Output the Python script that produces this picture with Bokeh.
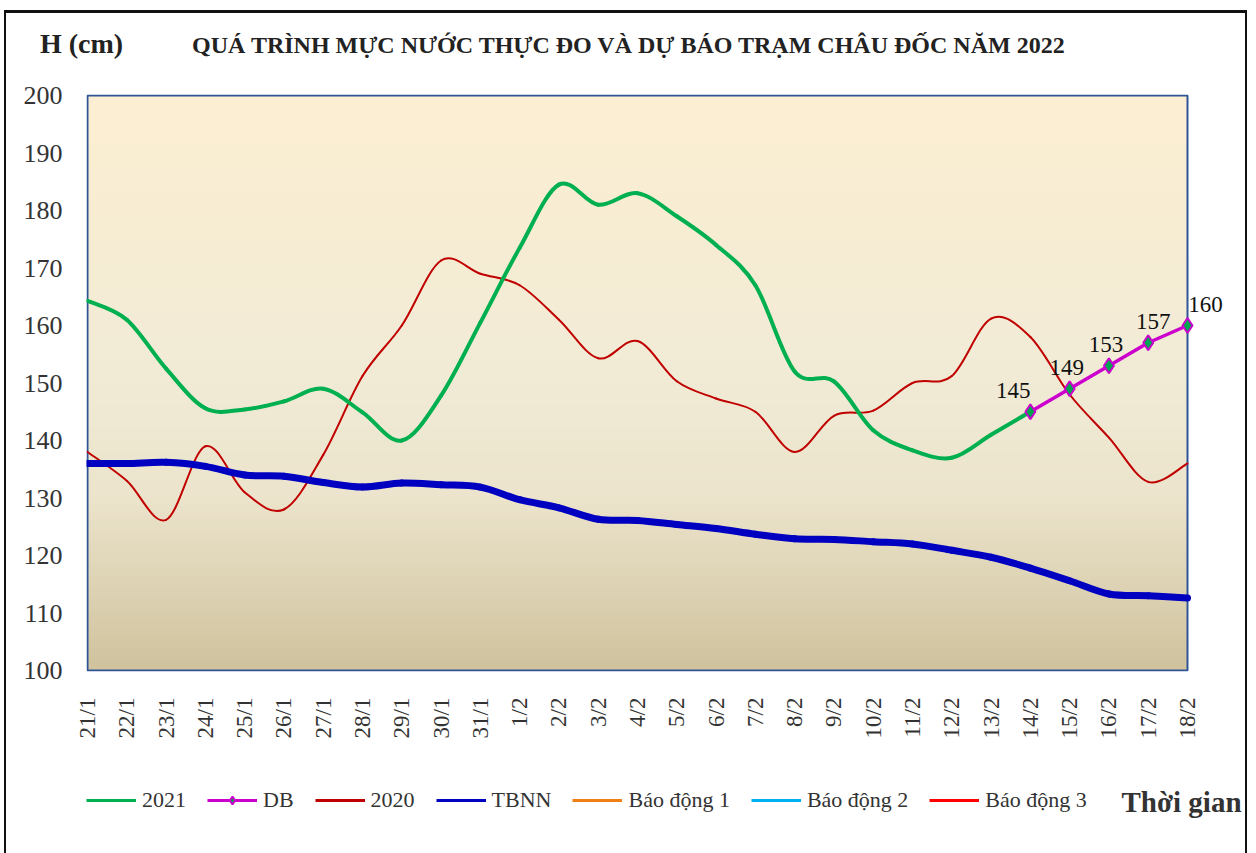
import numpy as np
from bokeh.plotting import figure
from bokeh.layouts import column
from bokeh.models import Range1d, FixedTicker, Legend, LegendItem, Label, Div
from bokeh.core.properties import value
from bokeh.embed import file_html
from bokeh.resources import INLINE

# ---------------- data ----------------
dates = ["21/1", "22/1", "23/1", "24/1", "25/1", "26/1", "27/1", "28/1", "29/1", "30/1",
         "31/1", "1/2", "2/2", "3/2", "4/2", "5/2", "6/2", "7/2", "8/2", "9/2",
         "10/2", "11/2", "12/2", "13/2", "14/2", "15/2", "16/2", "17/2", "18/2"]

h2021 = [164.3, 161.0, 152.5, 145.6, 145.4, 146.8, 149.0, 144.9, 140.0, 147.8,
         160.5, 173.5, 184.5, 181.0, 183.0, 179.0, 174.0, 167.0, 152.0, 150.3,
         141.8, 138.3, 137.0, 141.0, 145.0]

db_dates = ["14/2", "15/2", "16/2", "17/2", "18/2"]
db = [145, 149, 153, 157, 160]

h2020 = [138.0, 133.0, 126.2, 139.0, 131.0, 128.0, 137.5, 151.2, 160.0, 171.3,
         169.0, 167.0, 161.0, 154.3, 157.3, 150.3, 147.3, 145.0, 138.0, 144.3,
         145.2, 150.0, 151.2, 161.2, 158.0, 148.0, 140.5, 132.8, 136.0]

tbnn = [136.0, 136.0, 136.2, 135.5, 134.0, 133.8, 132.7, 131.9, 132.6, 132.3,
        131.9, 129.7, 128.3, 126.3, 126.1, 125.4, 124.7, 123.7, 122.9, 122.8,
        122.4, 122.0, 120.9, 119.7, 117.8, 115.6, 113.3, 113.0, 112.6]

bao_dong = [350, 400, 450]          # alarm levels (cm), above the visible range
bao_dong_names = ["Báo động 1", "Báo động 2", "Báo động 3"]

y_ticks = [100, 110, 120, 130, 140, 150, 160, 170, 180, 190, 200]

title_left = "H (cm)"
title_main = "QUÁ TRÌNH MỰC NƯỚC THỰC ĐO VÀ DỰ BÁO TRẠM CHÂU ĐỐC NĂM 2022"
x_title = "Thời gian"

# ---------------- style / layout constants ----------------
FONT = "Liberation Serif"
W = 1239                 # content width
PLOT_W_PX = 1100         # width of the coloured plot area
PLOT_H_PX = 575          # height of the coloured plot area
LEFT = 80                # left border of main figure
TOP_H, BOT_H = 66, 82
P_TOP, P_BOT = 15, 100

xs_all = list(range(len(dates)))
pos = {d: i for i, d in enumerate(dates)}
n_int = xs_all[-1] - xs_all[0]
pxu = PLOT_W_PX / n_int
pyu = PLOT_H_PX / (y_ticks[-1] - y_ticks[0])
frame_w = W - LEFT
x_start = xs_all[0] - 1 / pxu
x_end = x_start + frame_w / pxu
y_start = y_ticks[0] - 1 / pyu
y_end = y_ticks[-1] + 1 / pyu


def smooth(xs, ys):
    n = len(xs)
    out = {k: [] for k in ("x0", "y0", "x1", "y1", "cx0", "cy0", "cx1", "cy1")}
    for i in range(n - 1):
        pm = max(i - 1, 0)
        pp = min(i + 2, n - 1)
        out["x0"].append(xs[i]); out["y0"].append(ys[i])
        out["x1"].append(xs[i + 1]); out["y1"].append(ys[i + 1])
        out["cx0"].append(xs[i] + (xs[i + 1] - xs[pm]) / 6.0)
        out["cy0"].append(ys[i] + (ys[i + 1] - ys[pm]) / 6.0)
        out["cx1"].append(xs[i + 1] - (xs[pp] - xs[i]) / 6.0)
        out["cy1"].append(ys[i + 1] - (ys[pp] - ys[i]) / 6.0)
    return out


# ---------------- title strip (HTML text) ----------------
title_html = (
    f'<div style="position:relative;width:{W}px;height:{TOP_H}px;'
    f'font-family:\'{FONT}\';font-weight:bold;color:#222;">'
    f'<span style="position:absolute;left:34px;top:17px;font-size:28px;line-height:28px;'
    f'white-space:nowrap;">{title_left}</span>'
    f'<span style="position:absolute;left:186px;top:20px;font-size:24px;line-height:24px;'
    f'white-space:nowrap;">{title_main}</span></div>')
t = Div(text=title_html, width=W, height=TOP_H, margin=0)

# ---------------- main chart ----------------
p = figure(width=W, height=P_TOP + PLOT_H_PX + 2 + P_BOT, output_backend="svg",
           toolbar_location=None,
           x_range=Range1d(x_start, x_end), y_range=Range1d(y_start, y_end),
           min_border_left=LEFT, min_border_right=0, min_border_top=P_TOP,
           min_border_bottom=P_BOT)
p.background_fill_color = "white"
p.border_fill_color = "white"
p.outline_line_color = None
p.grid.visible = False

# gradient background of the plot area
stops_t = [0.0, 0.3, 0.5, 1.0]
stops_c = [(208, 195, 158), (236, 228, 204), (241, 235, 214), (253, 239, 210)]
n = 200
tt = np.linspace(0, 1, n)
img = np.empty((n, 1), dtype=np.uint32)
view = img.view(dtype=np.uint8).reshape((n, 1, 4))
for ch in range(3):
    view[:, 0, ch] = np.interp(tt, stops_t, [c[ch] for c in stops_c]).astype(np.uint8)
view[:, 0, 3] = 255
p.image_rgba(image=[img], x=xs_all[0], y=y_ticks[0], dw=n_int, dh=y_ticks[-1] - y_ticks[0],
             level="image")
p.quad(left=xs_all[0], right=xs_all[-1], bottom=y_ticks[0], top=y_ticks[-1],
       fill_color=None, line_color="#2F5597", line_width=2)

# series
p.bezier(line_color="#C00000", line_width=2, line_cap="round", **smooth(xs_all, h2020))
p.bezier(line_color="#00B050", line_width=4, line_cap="round",
         **smooth(xs_all[:len(h2021)], h2021))
p.bezier(line_color="#0000C0", line_width=7, line_cap="round", **smooth(xs_all, tbnn))

alarm_colors = ["#F07F16", "#00B0F0", "#FF0000"]
for lvl, c in zip(bao_dong, alarm_colors):
    p.line([xs_all[0], xs_all[-1]], [lvl, lvl], line_color=c, line_width=3)

db_x = [pos[d] for d in db_dates]
p.line(db_x, db, line_color="#CC00CC", line_width=3.5)
p.scatter(db_x, db, marker="diamond", size=15, fill_color="#00A550",
          line_color="#CC00CC", line_width=2)
p.text(x=db_x, y=db, text=[str(v) for v in db], x_offset=[-17, -3, -3, 5, 18],
       y_offset=-14, text_align="center", text_baseline="bottom",
       text_font=value(FONT), text_font_size="23px", text_color="#111")

# axes
p.yaxis.ticker = FixedTicker(ticks=y_ticks)
p.yaxis.axis_line_color = None
p.yaxis.major_tick_line_color = None
p.yaxis.minor_tick_line_color = None
p.yaxis.major_tick_out = 0
p.yaxis.major_tick_in = 0
p.yaxis.major_label_standoff = 24
p.yaxis.major_label_text_font = FONT
p.yaxis.major_label_text_font_size = "26px"
p.yaxis.major_label_text_color = "#333"

p.xaxis.ticker = FixedTicker(ticks=xs_all)
p.xaxis.major_label_overrides = {i: d for i, d in enumerate(dates)}
p.xaxis.major_label_orientation = np.pi / 2
p.xaxis.axis_line_color = None
p.xaxis.major_tick_line_color = None
p.xaxis.minor_tick_line_color = None
p.xaxis.major_tick_out = 0
p.xaxis.major_tick_in = 0
p.xaxis.major_label_standoff = 26
p.xaxis.major_label_text_font = FONT
p.xaxis.major_label_text_font_size = "23px"
p.xaxis.major_label_text_color = "#333"

# ---------------- legend strip ----------------
b = figure(width=W, height=BOT_H, output_backend="svg", toolbar_location=None,
           x_axis_type=None, y_axis_type=None,
           x_range=Range1d(0, W - LEFT), y_range=Range1d(0, BOT_H),
           min_border_left=LEFT, min_border_right=0, min_border_top=0, min_border_bottom=0)
b.outline_line_color = None
b.grid.visible = False
b.background_fill_color = "white"
b.border_fill_color = "white"

nan = [np.nan]
lg21 = b.line(nan, nan, line_color="#00B050", line_width=3)
lgdb_l = b.line(nan, nan, line_color="#CC00CC", line_width=3)
lgdb_m = b.scatter(nan, nan, marker="diamond", size=16, fill_color="#00A550",
                   line_color="#CC00CC", line_width=2)
lg20 = b.line(nan, nan, line_color="#C00000", line_width=3)
lgtb = b.line(nan, nan, line_color="#0000C0", line_width=3)
lg_alarm = [b.line(nan, nan, line_color=c, line_width=3) for c in alarm_colors]

items = [LegendItem(label="2021", renderers=[lg21]),
         LegendItem(label="DB", renderers=[lgdb_l, lgdb_m]),
         LegendItem(label="2020", renderers=[lg20]),
         LegendItem(label="TBNN", renderers=[lgtb])]
for name, r in zip(bao_dong_names, lg_alarm):
    items.append(LegendItem(label=name, renderers=[r]))

legend = Legend(items=items, orientation="horizontal", location=(0, 40),
                label_text_font=FONT, label_text_font_size="22px", label_text_color="#333",
                glyph_width=50, glyph_height=20, label_standoff=6, spacing=21,
                padding=0, margin=0, border_line_color=None, background_fill_alpha=0)
b.add_layout(legend)
b.add_layout(Label(x=1035, y=52, text=x_title, text_font=FONT, text_font_style="bold",
                   text_font_size="29px", text_color="#333", text_baseline="middle"))

layout = column(t, p, b, spacing=0,
                styles={"border-top": "3px solid #111", "border-left": "2px solid #111",
                        "border-right": "2px solid #111", "margin-left": "4px",
                        "margin-top": "10px"})

open("out.html", "w").write(file_html(layout, INLINE))
